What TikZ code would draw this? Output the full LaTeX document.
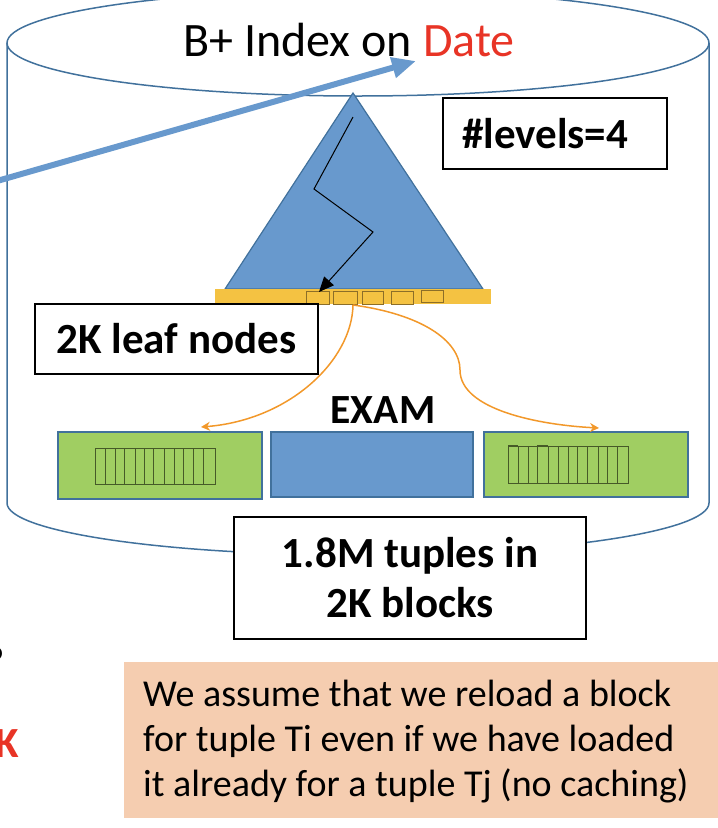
\documentclass[tikz,border=0pt]{standalone}
\usepackage{fontspec}
\setmainfont{Carlito}
\usetikzlibrary{arrows.meta}
\definecolor{cylline}{RGB}{65,113,156}
\definecolor{bluefill}{RGB}{104,153,205}
\definecolor{greenfill}{RGB}{160,206,98}
\definecolor{yellowbar}{RGB}{244,194,66}
\definecolor{orangeline}{RGB}{242,152,42}
\definecolor{peach}{RGB}{245,205,176}
\definecolor{datered}{RGB}{232,52,38}
\definecolor{stripeline}{RGB}{70,90,40}
\definecolor{slotline}{RGB}{140,110,40}
\tikzset{
  x=1pt, y=-1pt,
  cyl/.style={draw=cylline, line width=1.5pt},
  labelbox/.style={draw=black, fill=white, line width=1.5pt, inner sep=0pt, font=\bfseries\fontsize{43}{50}\selectfont},
  blockbox/.style={draw=cylline, line width=1.5pt},
  stripe/.style={draw=stripeline, line width=0.8pt},
  slot/.style={draw=slotline, fill=yellowbar, line width=0.9pt},
  orangearrow/.style={draw=orangeline, line width=1.5pt, -{Stealth[length=9pt,width=9pt]}},
}
\begin{document}
\begin{tikzpicture}
\useasboundingbox (0,0) rectangle (718,828);
\clip (0,0) rectangle (718,828);
% cylinder
\draw[cyl] (358,43) ellipse [x radius=351pt, y radius=53pt];
\draw[cyl] (7,43) -- (7,503) .. controls (7,531.7) and (164.1,555) .. (358,555)
  .. controls (551.9,555) and (709,531.7) .. (709,503) -- (709,43);
\node[font=\fontsize{48}{56}\selectfont, inner sep=0pt] (title) at (349,40) {B+ Index on \textcolor{datered}{Date}};
% thick blue arrow
\coordinate (arrS) at (-10,183);
\coordinate (arrE) at (416,61);
\draw[bluefill, line width=6pt, -{Triangle[length=24pt,width=20pt]}] (arrS) -- (arrE);
% triangle
\draw[draw=cylline, fill=bluefill, line width=1.2pt] (353,93) -- (483,289) -- (225,289) -- cycle;
% yellow bar
\fill[yellowbar] (215,289) rectangle (491,304);
\draw[slot] (306,291) rectangle (329,304);
\draw[slot] (333,291) rectangle (357,304);
\draw[slot] (362,291) rectangle (383,304);
\draw[slot] (391,291) rectangle (413,304);
\draw[slot] (421,290) rectangle (443,302);
% zigzag
\coordinate (z0) at (353,117);
\coordinate (z1) at (314,189);
\coordinate (z2) at (373,232);
\coordinate (z3) at (319,292);
\draw[black, line width=1pt, -{Triangle[length=15pt,width=13pt]}] (z0) -- (z1) -- (z2) -- (z3);
% boxes
\node[labelbox, minimum width=283pt, minimum height=70pt] (leaf) at (176.5,339) {2K leaf nodes};
\node[labelbox, minimum width=224pt, minimum height=71pt] (levels) at (555,133.5) {};
\node[anchor=west, inner sep=0pt, font=\bfseries\fontsize{43}{50}\selectfont] (levelstext) at (462,133.5) {\#levels=4};
% blocks
\draw[blockbox, fill=greenfill] (58,432) rectangle (262,499);
\draw[blockbox, fill=bluefill] (271,432) rectangle (473,497);
\draw[blockbox, fill=greenfill] (484,432) rectangle (688,497);
\node[font=\bfseries\fontsize{41.5}{48}\selectfont, inner sep=0pt] (exam) at (383,410) {EXAM};
% stripes left
\draw[stripe] (95,448) rectangle (215,484);
\foreach \xx in {105,115,124,135,144,153,164,174,183,193,203}
  \draw[stripe] (\xx,448) -- (\xx,484);
% stripes right
\draw[stripe] (508,446) rectangle (628,483);
\foreach \xx in {518,528,537,548,558,568,577,587,598,607,617}
  \draw[stripe] (\xx,447) -- (\xx,483);
\draw[stripe] (508,445) -- (518,445);
\draw[stripe] (537,445) -- (548,445);
% orange curves
\coordinate (oS) at (353,305);
\coordinate (oL) at (201,427);
\coordinate (oR) at (599,428);
\draw[orangearrow] (oS) .. controls (352,360) and (290,420) .. (oL);
\draw[orangearrow] (oS) .. controls (420,314) and (460,340) .. (460,370)
  .. controls (460,410) and (540,425) .. (oR);
% tuples box
\node[labelbox, minimum width=352pt, minimum height=122pt, align=center, font=\bfseries\fontsize{43}{50}\selectfont] (tuples) at (410,578) {1.8M tuples in\\2K blocks};
% peach note
\node[fill=peach, anchor=north west, minimum width=600pt, minimum height=156pt, inner sep=0pt] (note) at (124,662) {};
\node[anchor=west, align=left, inner sep=0pt, font=\fontsize{38}{45}\selectfont] (notetext) at (143,742) {We assume that we reload a block\\for tuple Ti even if we have loaded\\it already for a tuple Tj (no caching)};
% fragments at left edge
\node[anchor=east, inner sep=0pt, font=\bfseries\fontsize{43}{50}\selectfont] (q) at (5,662) {?};
\node[anchor=base east, inner sep=0pt, font=\bfseries\fontsize{43}{50}\selectfont, text=datered] (k) at (19,757) {K};
\end{tikzpicture}
\end{document}
